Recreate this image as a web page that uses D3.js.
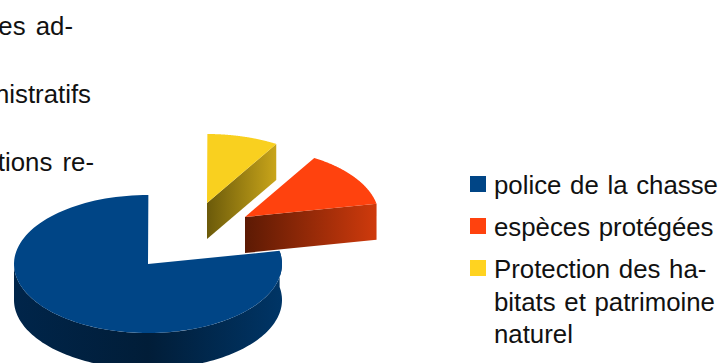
<!DOCTYPE html>
<html><head><meta charset="utf-8">
<script src="https://cdn.jsdelivr.net/npm/d3@7"></script>
<style>html,body{margin:0;padding:0;background:#fff;overflow:hidden}svg{display:block}text{font-family:"Liberation Sans",Arial,sans-serif;fill:#111}</style>
</head><body><script>
const categories = ["police de la chasse", "espèces protégées", "Protection des habitats et patrimoine naturel"];
const values = [78.1, 13.3, 8.6];
const legendLines = [["police de la chasse"], ["espèces protégées"], ["Protection des ha-", "bitats et patrimoine", "naturel"]];
const fragments = ["es ad-", "nistratifs", "tions re-"];
const colors = ["#004586", "#ff420e", "#ffd320"];
const topColors = ["#004586", "#ff420e", "#f9d01f"];
const wallStops = [["#00254a", "#011d38", "#003566"], ["#5c1a04", "#cf3a0c"], ["#6b5a0a", "#c9a51a"]];
const explode = [[148, 264], [245, 217], [207, 203]];

const W = 720, H = 363, RX = 134, RY = 69, DEPTH = 36;
const svg = d3.select("body").append("svg").attr("width", W).attr("height", H);
const defs = svg.append("defs");

// Slices run clockwise on the projected disc from 79 deg: blue, then yellow, then red.
const order = [0, 2, 1];
const startDeg = 79;
const pie = d3.pie().sort(null).value(i => values[i]).startAngle(startDeg * Math.PI / 180).endAngle(startDeg * Math.PI / 180 + 2 * Math.PI);
const arcs = pie(order);
const unit = d3.scaleLinear().domain([-1, 1]);
const sx = unit.copy().range([-RX, RX]), sy = unit.copy().range([-RY, RY]);
const pt = (t, c, dy = 0) => [c[0] + sx(Math.sin(t)), c[1] - sy(Math.cos(t)) + dy];
const samples = (a, b, c, dy) => d3.range(0, 121).map(k => pt(a + (b - a) * k / 120, c, dy));
const line = d3.line();

function grad(id, stops, x1, y1, x2, y2) {
  const g = defs.append("linearGradient").attr("id", id).attr("gradientUnits", "userSpaceOnUse")
    .attr("x1", x1).attr("y1", y1).attr("x2", x2).attr("y2", y2);
  stops.forEach((s, i) => g.append("stop").attr("offset", i / (stops.length - 1)).attr("stop-color", s));
  return `url(#${id})`;
}

arcs.forEach(a => {
  const i = a.data, c = explode[i];
  const s = a.startAngle, e = a.endAngle;
  const g = svg.append("g");
  if (i === 0) {
    // outer wall of the big slice, visible on the front half
    const from = Math.max(s, Math.PI * 0.44), to = Math.min(e, Math.PI * 1.5);
    const top = samples(from, to, c, 0);
    const bot = samples(from, to, c, DEPTH).reverse();
    g.append("path").attr("d", line(top.concat(bot)) + "Z")
      .attr("fill", grad("w0", wallStops[0], c[0] - RX, 0, c[0] + RX, 0));
  } else {
    // cut face toward the viewer, from the apex to the rim at the slice's end edge
    const end = pt(e, c);
    const quad = [c, end, [end[0], end[1] + DEPTH], [c[0], c[1] + DEPTH]];
    g.append("path").attr("d", line(quad) + "Z")
      .attr("fill", grad("w" + i, wallStops[i], c[0], 0, end[0], 0));
  }
  g.append("path").attr("d", line([c].concat(samples(s, e, c, 0))) + "Z").attr("fill", topColors[i]);
});

// legend
const lg = svg.append("g").attr("font-size", 25.8).attr("word-spacing", 1.5);
const swatchY = [176, 218, 260], textY = [194, 236, [278, 311, 343]];
legendLines.forEach((ls, i) => {
  lg.append("rect").attr("x", 470).attr("y", swatchY[i]).attr("width", 16).attr("height", 16).attr("fill", colors[i]);
  ls.forEach((l, j) => lg.append("text").attr("x", 494).attr("y", Array.isArray(textY[i]) ? textY[i][j] : textY[i]).text(l));
});

// clipped body text at upper left
const ends = [[73, 35], [91, 103], [94, 171]];
svg.append("g").attr("font-size", 25.8).attr("word-spacing", 3).selectAll("text").data(fragments).join("text")
  .attr("text-anchor", "end").attr("x", (d, i) => ends[i][0]).attr("y", (d, i) => ends[i][1]).text(d => d);
</script></body></html>
